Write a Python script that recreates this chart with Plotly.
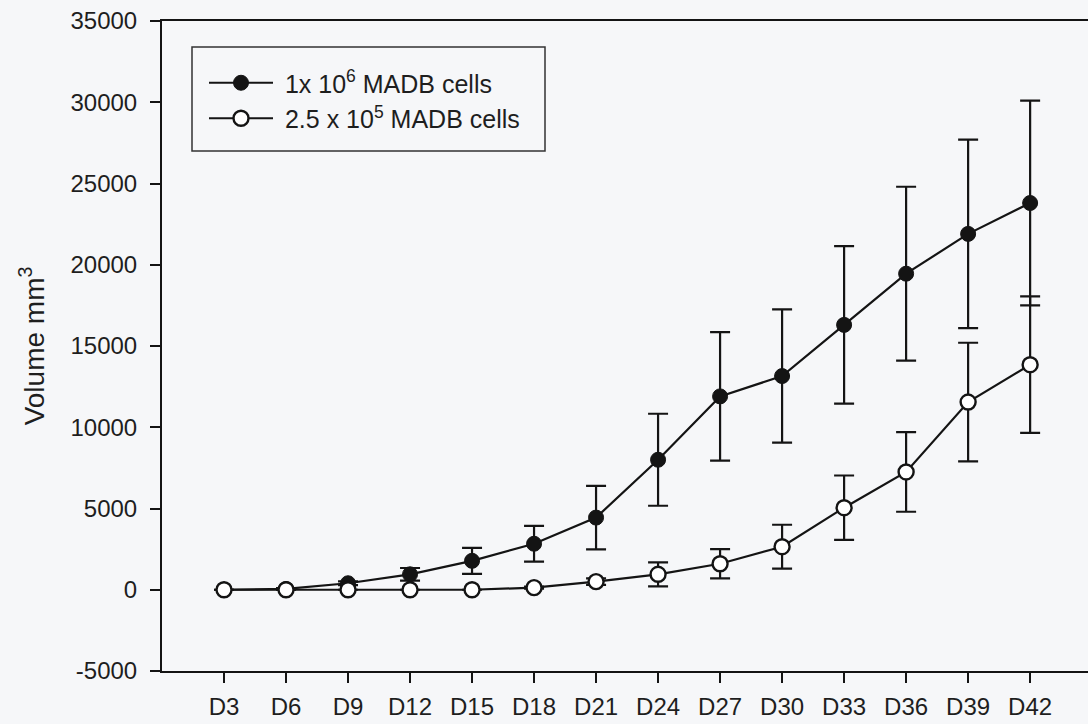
import plotly.graph_objects as go

days = [3, 6, 9, 12, 15, 18, 21, 24, 27, 30, 33, 36, 39, 42]
day_labels = ["D3", "D6", "D9", "D12", "D15", "D18", "D21", "D24", "D27", "D30", "D33", "D36", "D39", "D42"]

high_dose = [0, 50, 400, 950, 1780, 2830, 4440, 8000, 11900, 13150, 16300, 19450, 21900, 23800]
high_err = [0, 50, 120, 390, 800, 1100, 1950, 2830, 3950, 4100, 4850, 5350, 5800, 6300]

low_dose = [0, 0, 0, 0, 0, 130, 500, 950, 1600, 2650, 5050, 7250, 11550, 13850]
low_err = [0, 0, 0, 0, 0, 60, 200, 740, 900, 1350, 1980, 2450, 3650, 4200]

y_ticks = [-5000, 0, 5000, 10000, 15000, 20000, 25000, 30000, 35000]

BG = "#f6f7f9"
INK = "#141414"
TXT = "#1e1e1e"
FONT = "Liberation Sans, Arial, sans-serif"

fig = go.Figure()
fig.add_trace(go.Scatter(
    x=days, y=high_dose, mode="lines+markers",
    name="\u00a01x 10<sup>6</sup> MADB cells",
    line=dict(color=INK, width=2.2),
    marker=dict(symbol="circle", size=15, color=INK, line=dict(color=INK, width=1)),
    error_y=dict(type="data", array=high_err, visible=True, color=INK, thickness=2.2, width=10),
))
fig.add_trace(go.Scatter(
    x=days, y=low_dose, mode="lines+markers",
    name="\u00a02.5 x 10<sup>5</sup> MADB cells",
    line=dict(color=INK, width=2.2),
    marker=dict(symbol="circle", size=15, color="white", line=dict(color=INK, width=2.4)),
    error_y=dict(type="data", array=low_err, visible=True, color=INK, thickness=2.2, width=10),
))

W, H = 1088, 724
ML, MR, MT, MB = 162, 0, 21, 53
pw, ph = W - ML - MR, H - MT - MB

def px_x(p):
    return (p - ML) / pw

def px_y(p):
    return (H - MB - p) / ph

fig.update_layout(
    width=W, height=H,
    margin=dict(l=ML, r=MR, t=MT, b=MB, pad=0),
    paper_bgcolor=BG, plot_bgcolor=BG,
    font=dict(family=FONT, size=24, color=TXT),
    showlegend=True,
    legend=dict(
        x=px_x(204), y=px_y(60), xanchor="left", yanchor="top",
        bgcolor="rgba(0,0,0,0)", borderwidth=0,
        font=dict(family=FONT, size=25, color=TXT),
        itemwidth=64, tracegroupgap=0,
    ),
    shapes=[dict(
        type="rect", xref="paper", yref="paper",
        x0=px_x(192), x1=px_x(545), y0=px_y(151), y1=px_y(47),
        line=dict(color="#333333", width=1.5), fillcolor="rgba(0,0,0,0)",
    )],
)
fig.update_xaxes(
    range=[0, 44.8], tickmode="array", tickvals=days, ticktext=day_labels,
    showline=True, linecolor=INK, linewidth=2, mirror=True,
    ticks="outside", ticklen=10, tickwidth=2, tickcolor=INK,
    showgrid=False, zeroline=False, ticklabelstandoff=3,
    tickfont=dict(family=FONT, size=24, color=TXT),
)
fig.update_yaxes(
    range=[-5000, 35000], tickmode="array", tickvals=y_ticks,
    ticktext=[str(v) for v in y_ticks],
    showline=True, linecolor=INK, linewidth=2,
    ticks="outside", ticklen=10, tickwidth=2, tickcolor=INK,
    showgrid=False, zeroline=False, ticklabelstandoff=8,
    tickfont=dict(family=FONT, size=24, color=TXT),
    title=dict(text="Volume mm<sup>3</sup>", font=dict(family=FONT, size=28, color=TXT), standoff=18),
)

fig.write_html("out.html")
